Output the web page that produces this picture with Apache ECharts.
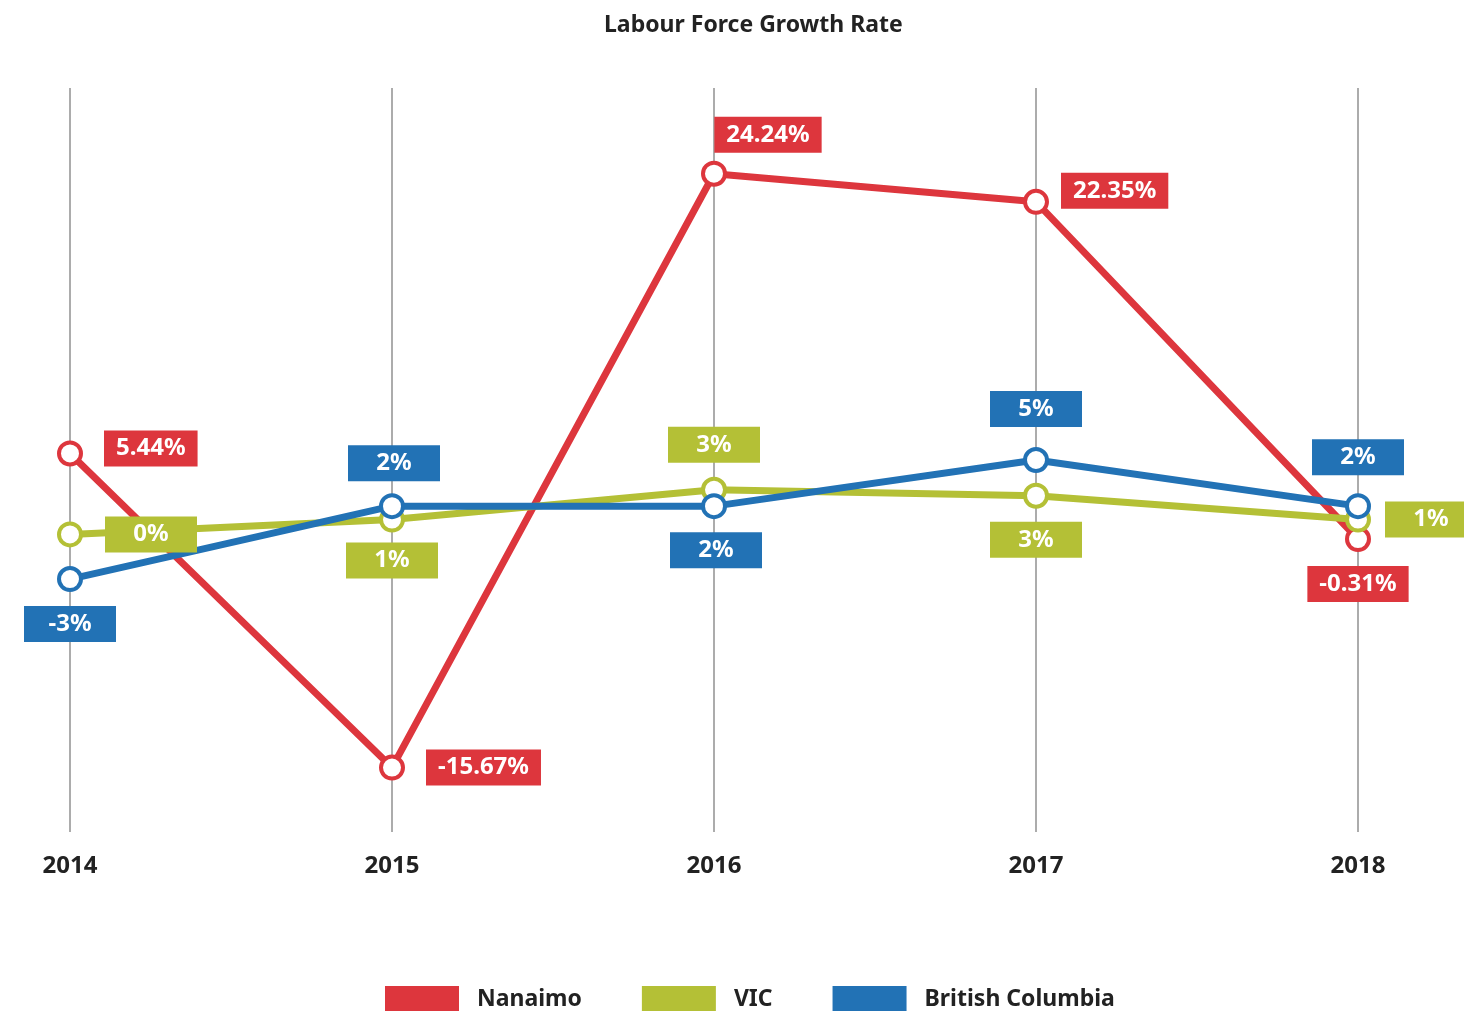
<!DOCTYPE html>
<html>
<head>
<meta charset="utf-8">
<script src="https://cdn.jsdelivr.net/npm/echarts@6/dist/echarts.min.js"></script>
<style>
  html, body { margin: 0; padding: 0; background: #fff; }
  #main { width: 1464px; height: 1011px; }
</style>
</head>
<body>
<div id="main"></div>
<script>
const years = ["2014", "2015", "2016", "2017", "2018"];
const nanaimo = [5.44, -15.67, 24.24, 22.35, -0.31];
const vic = [0, 1, 3, 2.6, 1];
const bc = [-3, 1.9, 1.9, 5, 1.9];

const RED = "#dd363d";
const GREEN = "#b4c036";
const BLUE = "#2272b5";
const FONT = "Noto Sans";

// label placement per point: [position, dx, dy]
const placeNanaimo = [["right", 11, -5], ["right", 11, 0], ["top", 54, 2], ["right", 2, -11], ["bottom", 0, 4]];
const placeVic = [["right", 12, 0], ["bottom", 0, 0], ["top", 0, -4], ["bottom", 0, 3], ["right", 4, 0]];
const placeBc = [["bottom", 0, 4], ["top", 2, -2], ["bottom", 2, 3], ["top", 0, -10], ["top", 0, -8]];

function makeSeries(name, values, color, places, fmt) {
  return {
    name: name,
    type: "line",
    data: values.map(function (v, i) {
      return {
        value: v,
        label: {
          position: places[i][0],
          offset: [places[i][1], places[i][2]]
        }
      };
    }),
    symbol: "circle",
    symbolSize: 22,
    lineStyle: { width: 7, color: color },
    itemStyle: { color: "#fff", borderColor: color, borderWidth: 4 },
    label: {
      show: true,
      distance: 10,
      formatter: function (p) {
        const text = fmt(p.value);
        return (text.length > 3 ? "{l|" : "{s|") + text + "}";
      },
      backgroundColor: color,
      padding: [5, 12, 5, 12],
      rich: {
        s: { width: 68, align: "center", color: "#fff", fontFamily: FONT, fontWeight: "bold", fontSize: 24, lineHeight: 26 },
        l: { align: "center", color: "#fff", fontFamily: FONT, fontWeight: "bold", fontSize: 24, lineHeight: 26 }
      }
    },
    emphasis: { disabled: true },
    z: 2
  };
}

const options = {
  animation: false,
  backgroundColor: "#fff",
  title: {
    text: "Labour Force Growth Rate",
    left: 604,
    top: 14,
    padding: 0,
    textStyle: { fontFamily: FONT, fontWeight: "bold", fontSize: 23, color: "#222" }
  },
  legend: {
    bottom: -1,
    left: 385,
    padding: 0,
    itemWidth: 74,
    itemHeight: 26,
    itemGap: 60,
    icon: "rect",
    textStyle: { fontFamily: FONT, fontWeight: "bold", fontSize: 23, color: "#222", padding: [0, 0, 0, 13] },
    data: [
      { name: "Nanaimo", itemStyle: { color: RED, borderWidth: 0 } },
      { name: "VIC", itemStyle: { color: GREEN, borderWidth: 0 } },
      { name: "British Columbia", itemStyle: { color: BLUE, borderWidth: 0 } }
    ]
  },
  grid: { left: 70, right: 106, top: 88, bottom: 179 },
  xAxis: {
    type: "category",
    boundaryGap: false,
    data: years,
    axisLine: { show: false },
    axisTick: { show: false },
    axisLabel: { margin: 22, fontFamily: FONT, fontWeight: "bold", fontSize: 24, color: "#222" },
    splitLine: { show: true, lineStyle: { color: "#acacac", width: 2 } }
  },
  yAxis: {
    type: "value",
    min: -20,
    max: 30,
    show: false,
    splitLine: { show: false }
  },
  series: [
    makeSeries("Nanaimo", nanaimo, RED, placeNanaimo, function (v) { return v.toFixed(2) + "%"; }),
    makeSeries("VIC", vic, GREEN, placeVic, function (v) { return Math.round(v) + "%"; }),
    makeSeries("British Columbia", bc, BLUE, placeBc, function (v) { return Math.round(v) + "%"; })
  ]
};

const myChart = echarts.init(document.getElementById("main"));
myChart.setOption(options);
window.onresize = function () {
  myChart.resize();
};
</script>
</body>
</html>
